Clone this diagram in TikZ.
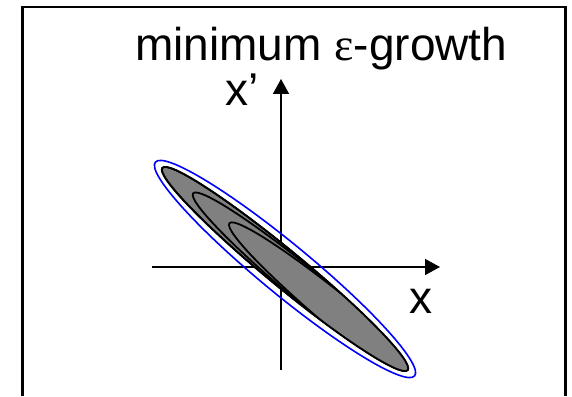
\documentclass[tikz,border=0pt]{standalone}
\usepackage{fontspec}
\setmainfont{Liberation Sans}
\newfontfamily\symfont{Liberation Serif}
\usetikzlibrary{arrows.meta}
\begin{document}
\begin{tikzpicture}[x=1pt,y=1pt,
  axis/.style={line width=1.5pt,-{Triangle[length=15pt,width=16pt]}},
  lbl/.style={inner sep=0pt,anchor=base west,font=\fontsize{46}{56}\selectfont},
  blob/.style={fill=gray,draw=black,line width=1.8pt}]
\useasboundingbox (0,0) rectangle (572,396);
\draw[line width=2.5pt] (22.5,0) -- (22.5,389) -- (565.5,389) -- (565.5,0);

\coordinate (xl) at (152,129);
\coordinate (xr) at (440,129);
\coordinate (yb) at (281,26);
\coordinate (yt) at (281,317);
\draw[axis] (xl) -- (xr);
\draw[axis] (yb) -- (yt);

% ellipses along the tilted axis
\begin{scope}[shift={(285,127)},rotate=-39.5]
\draw[blue,line width=1.6pt] (0,0) ellipse [x radius=168,y radius=25];
\path[blob] (0,0) ellipse [x radius=159,y radius=18];
\begin{scope}
\clip (0,0) ellipse [x radius=159,y radius=18];
\foreach \d in {40,87}
  \path[blob] (\d,0) ellipse [x radius=159,y radius=17];
\end{scope}
\draw[line width=1.8pt] (0,0) ellipse [x radius=159,y radius=18];
\end{scope}

\node[lbl] (title) at (135,335) {minimum {\symfont ε}-growth};
\node[lbl] (xp) at (225,290) {x’};
\node[lbl] (xx) at (409,83) {x};
\end{tikzpicture}
\end{document}
